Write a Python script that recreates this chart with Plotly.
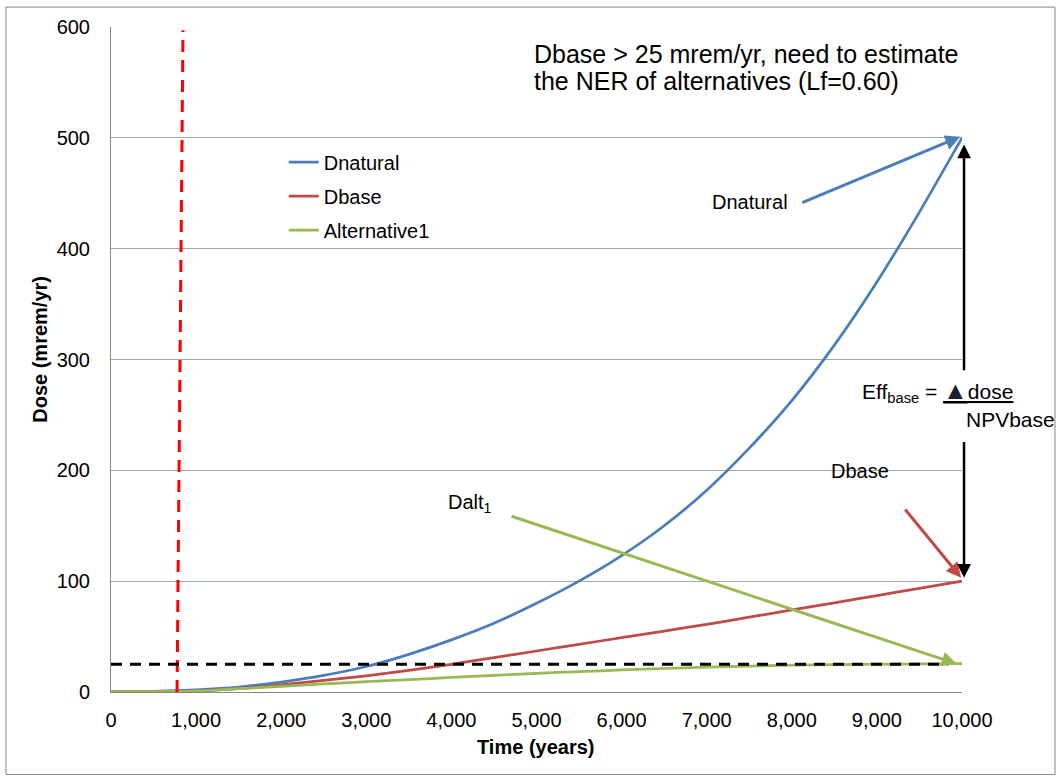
import plotly.graph_objects as go

# ---------------- data ----------------
years = [0, 500, 1000, 1500, 2000, 2500, 3000, 3500, 4000, 4500, 5000,
         5500, 6000, 6500, 7000, 7500, 8000, 8500, 9000, 9500, 10000]
d_natural = [0, 0.5, 2, 4.5, 9, 15, 23, 34, 47, 62, 80,
             100, 123, 150, 182, 220, 263, 313, 370, 433, 500]
d_base = [0, 0.3, 1, 3, 6.5, 10.5, 14.5, 19.5, 25, 31, 37,
          43, 49, 55, 61, 67.5, 74, 80.5, 87, 93.5, 100]
alternative1 = [0, 0.3, 1, 3, 5, 7.3, 9.3, 11.2, 13.1, 15, 16.8,
                18.4, 19.9, 21.2, 22.4, 23.4, 24.2, 24.8, 25.1, 25.3, 25.5]

series_names = ["Dnatural", "Dbase", "Alternative1"]
series_values = [d_natural, d_base, alternative1]
series_colors = ["#4A7EBB", "#BE4B48", "#98B954"]

dose_limit = 25            # black dashed line (mrem/yr)
limit_line_end = 9835      # year where the dashed limit line ends
start_line_bottom = 776    # red dashed vertical line, year at bottom
start_line_top = 846       # red dashed vertical line, year at top

x_ticks = [0, 1000, 2000, 3000, 4000, 5000, 6000, 7000, 8000, 9000, 10000]
x_tick_labels = ["0", "1,000", "2,000", "3,000", "4,000", "5,000",
                 "6,000", "7,000", "8,000", "9,000", "10,000"]
y_ticks = [0, 100, 200, 300, 400, 500, 600]

FONT = "Liberation Sans, Arial, sans-serif"

fig = go.Figure()
for name, vals, color in zip(series_names, series_values, series_colors):
    fig.add_trace(go.Scatter(
        x=years, y=vals, mode="lines", name=name, legendgroup=name,
        line=dict(color=color, width=2.75, shape="spline", smoothing=0.6),
    ))

fig.update_layout(
    width=1063, height=779,
    margin=dict(l=111, r=101, t=27, b=86.5),
    paper_bgcolor="white", plot_bgcolor="white",
    font=dict(family=FONT, size=20, color="black"),
    showlegend=True,
    legend=dict(x=0.203, y=0.826, xanchor="left", yanchor="top",
                bgcolor="rgba(0,0,0,0)", font=dict(size=20),
                tracegroupgap=5, itemwidth=30),
)
fig.update_xaxes(
    range=[0, 10000], tickvals=x_ticks, ticktext=x_tick_labels,
    showgrid=False, showline=True, linecolor="#868686", linewidth=1,
    zeroline=False, ticks="outside", ticklen=10, tickcolor="rgba(0,0,0,0)",
    tickfont=dict(size=20, family=FONT),
)
fig.update_yaxes(
    range=[0, 600], tickvals=y_ticks,
    showgrid=True, gridcolor="#A6A6A6", gridwidth=1,
    showline=True, linecolor="#868686", linewidth=1,
    zeroline=False, ticks="outside", ticklen=16, tickcolor="rgba(0,0,0,0)",
    tickfont=dict(size=20, family=FONT),
)

# outer chart border
fig.add_shape(type="rect", xref="paper", yref="paper",
              x0=-0.1234, x1=1.1093, y0=-0.124, y1=1.030,
              line=dict(color="#868686", width=1), layer="below")
# red dashed vertical
fig.add_shape(type="line", xref="x", yref="y",
              x0=start_line_bottom, y0=0, x1=start_line_top, y1=597,
              line=dict(color="#FF0000", width=3, dash="12px,8px"))
# black dashed limit
fig.add_shape(type="line", xref="x", yref="y",
              x0=0, y0=dose_limit, x1=limit_line_end, y1=dose_limit,
              line=dict(color="black", width=3, dash="11px,8px"))


def arrow(tip, tail, color, width=2.5, size=1.0):
    fig.add_annotation(x=tip[0], y=tip[1], ax=tail[0], ay=tail[1],
                       xref="x", yref="y", axref="x", ayref="y",
                       text="", showarrow=True, arrowhead=2,
                       arrowsize=size, arrowwidth=width, arrowcolor=color,
                       standoff=0, startstandoff=0)


def vertical_arrow(xp, tip_y, tail_y):
    # x in paper units (just right of the plot area), y in data units
    fig.add_annotation(x=xp, y=tip_y, xref="paper", yref="y",
                       ax=0, ay=tail_y, axref="pixel", ayref="y",
                       text="", showarrow=True, arrowhead=2,
                       arrowsize=1.1, arrowwidth=2.5, arrowcolor="black",
                       standoff=0, startstandoff=0)


arrow((9980, 501), (8105, 441), "#4A7EBB", 3)
arrow((9990, 103), (9318, 166), "#BE4B48", 3)
arrow((9938, 25.4), (4689, 159), "#98B954", 3)
vertical_arrow(1.0024, 494, 289)
vertical_arrow(1.0024, 103, 227)


def label(x, y, text, size=20, xanchor="center", xref="x", yref="y", angle=0):
    fig.add_annotation(x=x, y=y, xref=xref, yref=yref, text=text,
                       showarrow=False, xanchor=xanchor, yanchor="middle",
                       textangle=angle, font=dict(size=size, family=FONT, color="black"))


label(7509, 442, "Dnatural")
label(8801, 199, "Dbase")
label(4219, 170, "Dalt<sub>1</sub>")
label(8801, 272, "Eff<sub>base</sub> = <u><span style='color:#17202E;font-size:25px'>▲</span>dose</u>",
      size=21, xanchor="left")
label(1.0024, 0.41, "NPVbase", size=21, xanchor="left", xref="paper", yref="paper")
label(4947, 576, "Dbase &gt; 25 mrem/yr, need to estimate", size=25, xanchor="left")
label(4947, 551.5, "the NER of alternatives (Lf=0.60)", size=25, xanchor="left")
label(-0.0834, 0.5147, "<b>Dose (mrem/yr)</b>", size=20, xref="paper", yref="paper", angle=-90)
label(0.4994, -0.0834, "<b>Time (years)</b>", size=20, xref="paper", yref="paper")

fig.write_html("out.html")
